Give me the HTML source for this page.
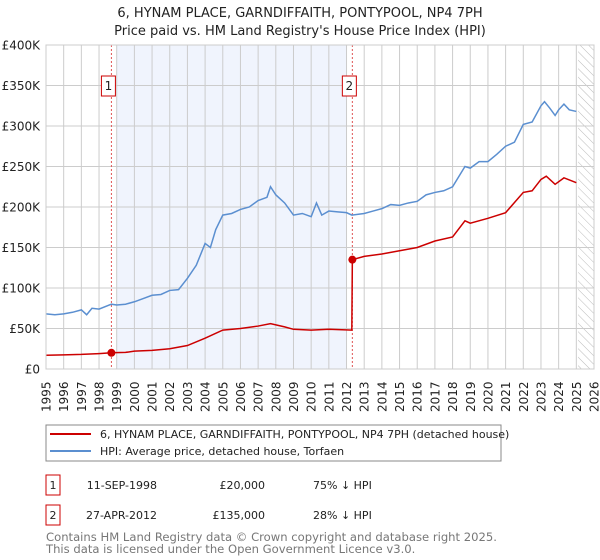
<!DOCTYPE html>
<html><head><meta charset="utf-8"><style>
body{margin:0;background:#fff;font-family:"DejaVu Sans","Liberation Sans",sans-serif;}
svg{display:block}
</style></head><body>
<svg id="c" width="600" height="560" xmlns="http://www.w3.org/2000/svg" font-family="DejaVu Sans, Liberation Sans, sans-serif">
<defs><pattern id="hatch" width="6" height="6" patternUnits="userSpaceOnUse" patternTransform="rotate(-45)"><line x1="0" y1="0" x2="0" y2="6" stroke="#bbb" stroke-width="1"/></pattern></defs>
<text x="300" y="17" text-anchor="middle" font-size="13" fill="#222">6, HYNAM PLACE, GARNDIFFAITH, PONTYPOOL, NP4 7PH</text>
<text x="300" y="35" text-anchor="middle" font-size="13" fill="#222">Price paid vs. HM Land Registry's House Price Index (HPI)</text>
<g id="plot"></g>
<g>
<rect x="46" y="425" width="455" height="36" fill="#fff" stroke="#888"/>
<line x1="50" y1="434" x2="91" y2="434" stroke="#cc0000" stroke-width="2"/>
<text x="100" y="438" font-size="11" fill="#222">6, HYNAM PLACE, GARNDIFFAITH, PONTYPOOL, NP4 7PH (detached house)</text>
<line x1="50" y1="451" x2="91" y2="451" stroke="#5b8fd0" stroke-width="2"/>
<text x="100" y="455" font-size="11" fill="#222">HPI: Average price, detached house, Torfaen</text>
</g>
<g font-size="11" fill="#222">
<rect x="46" y="475" width="14" height="20" fill="#fff" stroke="#cc0000"/><text x="53" y="489" text-anchor="middle">1</text>
<text x="157" y="489" text-anchor="end">11-SEP-1998</text><text x="265" y="489" text-anchor="end">£20,000</text><text x="313" y="489">75% ↓ HPI</text>
<rect x="46" y="505" width="14" height="20" fill="#fff" stroke="#cc0000"/><text x="53" y="519" text-anchor="middle">2</text>
<text x="157" y="519" text-anchor="end">27-APR-2012</text><text x="265" y="519" text-anchor="end">£135,000</text><text x="313" y="519">28% ↓ HPI</text>
</g>
<text x="46" y="541" font-size="11.6" fill="#777">Contains HM Land Registry data © Crown copyright and database right 2025.</text>
<text x="46" y="553" font-size="11.6" fill="#777">This data is licensed under the Open Government Licence v3.0.</text>
</svg>
<script>
const yTicks=[0,50,100,150,200,250,300,350,400];
const yearTicks=[1995,1996,1997,1998,1999,2000,2001,2002,2003,2004,2005,2006,2007,2008,2009,2010,2011,2012,2013,2014,2015,2016,2017,2018,2019,2020,2021,2022,2023,2024,2025,2026];
const hpiYears=[1995,1995.5,1996,1996.5,1997,1997.3,1997.6,1998,1998.7,1999,1999.5,2000,2000.5,2001,2001.5,2002,2002.5,2003,2003.5,2004,2004.3,2004.6,2005,2005.5,2006,2006.5,2007,2007.5,2007.7,2008,2008.5,2009,2009.5,2010,2010.3,2010.6,2011,2011.5,2012,2012.3,2013,2013.5,2014,2014.5,2015,2015.5,2016,2016.5,2017,2017.5,2018,2018.7,2019,2019.5,2020,2020.5,2021,2021.5,2022,2022.5,2023,2023.2,2023.5,2023.8,2024,2024.3,2024.6,2025];
const hpiValues=[68,67,68,70,73,67,75,74,80,79,80,83,87,91,92,97,98,112,128,155,150,172,190,192,197,200,208,212,225,215,205,190,192,188,205,190,195,194,193,190,192,195,198,203,202,205,207,215,218,220,225,250,248,256,256,265,275,280,302,305,325,330,322,313,320,327,320,318];
const saleYears=[1995,1996,1997,1998,1998.7,1999.5,2000,2001,2002,2003,2004,2005,2006,2007,2007.7,2008.5,2009,2010,2011,2012.3,2012.33,2013,2014,2015,2016,2017,2018,2018.7,2019,2020,2021,2022,2022.5,2023,2023.3,2023.8,2024.3,2025];
const saleValues=[17,17.5,18,19,20,20.5,22,23,25,29,38,48,50,53,56,52,49,48,49,48,135,139,142,146,150,158,163,183,180,186,193,218,220,234,238,228,236,230];
const salePointYears=[1998.7,2012.33];
const salePointValues=[20,135];
const saleLabels=["1","2"];

const L=46,R=594,T=45,B=369;
const x=y=>L+(y-1995)*(R-L)/31;
const yv=v=>B-v*(B-T)/400;
const g=document.getElementById('plot');
const NS='http://www.w3.org/2000/svg';
function mk(t,a,p){const e=document.createElementNS(NS,t);for(const k in a)e.setAttribute(k,a[k]);(p||g).appendChild(e);return e;}
let e;
e=mk('rect',{x:x(1999),y:T,width:x(2012)-x(1999),height:B-T,fill:'#f0f4fd'});


e=mk('rect',{x:x(2025.1),y:T,width:R-x(2025.1),height:B-T,fill:'url(#hatch)'});


yearTicks.forEach(yr=>{
 e=mk('line',{x1:x(yr),x2:x(yr),y1:T,y2:B,stroke:'#ccc','stroke-width':1});
 
 
 e=mk('text',{x:0,y:0,transform:`translate(${x(yr)+4.5},${B+43}) rotate(-90)`,'font-size':12,fill:'#222'});
 e.textContent=yr;
 
 
});
yTicks.forEach(v=>{
 e=mk('line',{x1:L,x2:R,y1:yv(v),y2:yv(v),stroke:'#ccc','stroke-width':1});
 
 
 e=mk('text',{x:L-6,y:yv(v)+4.5,'text-anchor':'end','font-size':12,fill:'#222'});
 e.textContent=v===0?'£0':'£'+v+'K';
 
 
});
salePointYears.forEach((yr,i)=>{
 e=mk('line',{x1:x(yr),x2:x(yr),y1:T,y2:B,stroke:'#e05555','stroke-width':1,'stroke-dasharray':'2,2'});
 
 
});
e=mk('polyline',{points:hpiYears.map((yr,i)=>x(yr)+','+yv(hpiValues[i])).join(' '),fill:'none',stroke:'#5b8fd0','stroke-width':1.5});


e=mk('polyline',{points:saleYears.map((yr,i)=>x(yr)+','+yv(saleValues[i])).join(' '),fill:'none',stroke:'#cc0000','stroke-width':1.5});


salePointYears.forEach((yr,i)=>{
 e=mk('circle',{cx:x(yr),cy:yv(salePointValues[i]),r:4,fill:'#cc0000'});
 
 
 e=mk('rect',{x:x(yr)-10,y:76,width:14,height:20,fill:'#fff',stroke:'#cc0000'});
 
 
 e=mk('text',{x:x(yr)-3,y:90,'text-anchor':'middle','font-size':12,fill:'#222'});
 e.textContent=saleLabels[i];
 
 
});
e=mk('rect',{x:L,y:T,width:R-L,height:B-T,fill:'none',stroke:'#ccc'});


</script>
</body></html>
